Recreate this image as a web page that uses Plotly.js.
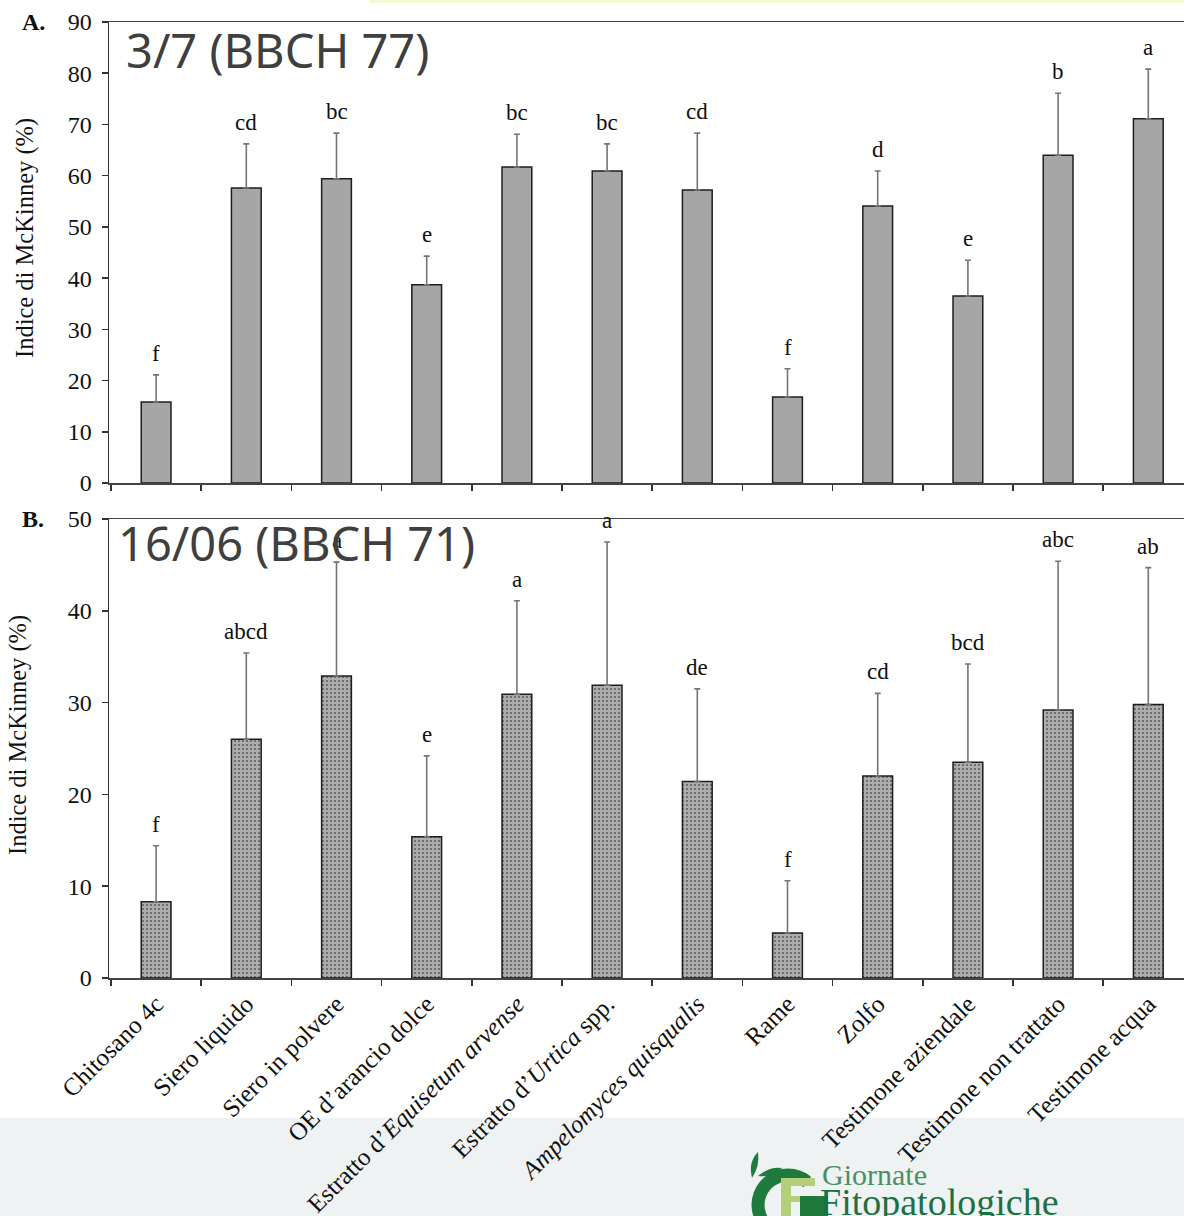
<!DOCTYPE html>
<html>
<head>
<meta charset="utf-8">
<script src="https://cdn.plot.ly/plotly-3.0.1.min.js"></script>
<style>
  html, body { margin: 0; padding: 0; background: #ffffff; }
  #chart { width: 1184px; height: 1216px; }
</style>
</head>
<body>
<div id="chart"></div>
<script>
// Treatments (shared by both panels)
const categories = [
  "Chitosano 4c",
  "Siero liquido",
  "Siero in polvere",
  "OE d\u2019arancio dolce",
  "Estratto d\u2019<i>Equisetum arvense</i>",
  "Estratto d\u2019<i>Urtica</i> spp.",
  "<i>Ampelomyces quisqualis</i>",
  "Rame",
  "Zolfo",
  "Testimone aziendale",
  "Testimone non trattato",
  "Testimone acqua"
];

// Panel A: 3/7 (BBCH 77) - McKinney index (%), standard deviation, significance letters
const valuesA = [15.8, 57.6, 59.4, 38.7, 61.7, 60.9, 57.2, 16.8, 54.1, 36.5, 64.0, 71.1];
const errorsA = [5.3, 8.6, 8.9, 5.6, 6.4, 5.3, 11.1, 5.5, 6.8, 7.0, 12.1, 9.7];
const lettersA = ["f", "cd", "bc", "e", "bc", "bc", "cd", "f", "d", "e", "b", "a"];

// Panel B: 16/06 (BBCH 71)
const valuesB = [8.3, 26.0, 32.9, 15.4, 30.9, 31.9, 21.4, 4.9, 22.0, 23.5, 29.2, 29.8];
const errorsB = [6.1, 9.4, 12.4, 8.8, 10.2, 15.6, 10.1, 5.7, 9.0, 10.7, 16.2, 14.9];
const lettersB = ["f", "abcd", "a", "e", "a", "a", "de", "f", "cd", "bcd", "abc", "ab"];

const titleA = "3/7 (BBCH 77)";
const titleB = "16/06 (BBCH 71)";
const yTitle = "Indice di McKinney (%)";

// page geometry helpers (plot area: left 109, right 1184, top 22, bottom 978)
const L = 109, R = 1184, T = 22, B = 978;
const px = v => (v - L) / (R - L);
const py = v => (B - v) / (B - T);
const STEP = 90.2;      // pixels per category
const FIRST = 111;      // pixel of the first category boundary

const serif = "Liberation Serif, Times New Roman, serif";

const errStyle = (arr) => ({
  type: "data", symmetric: false, array: arr,
  arrayminus: arr.map(() => 0),
  color: "#757575", thickness: 1.6, width: 3
});

const traceA = {
  type: "bar", x: categories, y: valuesA, xaxis: "x", yaxis: "y",
  marker: { color: "#a6a6a6", line: { color: "#1e1e1e", width: 1.5 } },
  error_y: errStyle(errorsA),
  hoverinfo: "x+y", showlegend: false
};

const traceB = {
  type: "bar", x: categories, y: valuesB, xaxis: "x2", yaxis: "y2",
  marker: {
    color: "#adadad",
    line: { color: "#1e1e1e", width: 1.5 },
    pattern: { shape: ".", fgcolor: "#5a5a5a", bgcolor: "#adadad", size: 4, solidity: 0.2 }
  },
  error_y: errStyle(errorsB),
  hoverinfo: "x+y", showlegend: false
};

const xCommon = {
  type: "category",
  range: [-0.5 - (FIRST - L) / STEP, -0.5 + (R - FIRST) / STEP],
  tickson: "boundaries",
  ticks: "outside", ticklen: 6, tickwidth: 1.5, tickcolor: "#333",
  showline: true, linecolor: "#444", linewidth: 1.5, mirror: true,
  showgrid: false, zeroline: false, fixedrange: true
};

const yCommon = {
  ticks: "outside", ticklen: 6, tickwidth: 1.5, tickcolor: "#333",
  ticklabelstandoff: 5,
  showline: true, linecolor: "#333", linewidth: 1.5,
  showgrid: false, zeroline: false, dtick: 10,
  tickfont: { family: serif, size: 24, color: "#111" },
  fixedrange: true
};

const letterNotes = (vals, errs, letters, xr, yr) => vals.map((v, i) => ({
  x: categories[i], y: v + errs[i], xref: xr, yref: yr,
  text: letters[i], showarrow: false, yanchor: "bottom", yshift: 7,
  font: { family: serif, size: 23, color: "#111" }
}));

const annotations = [
  ...letterNotes(valuesA, errorsA, lettersA, "x", "y"),
  ...letterNotes(valuesB, errorsB, lettersB, "x2", "y2"),
  // panel captions
  { xref: "paper", yref: "paper", x: px(124), y: py(50), xanchor: "left", yanchor: "middle",
    text: titleA, showarrow: false, font: { family: "Noto Sans", size: 47, color: "#3f3f3f" } },
  { xref: "paper", yref: "paper", x: px(116), y: py(543), xanchor: "left", yanchor: "middle",
    text: titleB, showarrow: false, font: { family: "Noto Sans", size: 47, color: "#3f3f3f" } },
  // panel markers
  { xref: "paper", yref: "paper", x: px(33), y: py(22), xanchor: "center", yanchor: "middle",
    text: "<b>A.</b>", showarrow: false, font: { family: serif, size: 24, color: "#111" } },
  { xref: "paper", yref: "paper", x: px(33), y: py(519), xanchor: "center", yanchor: "middle",
    text: "<b>B.</b>", showarrow: false, font: { family: serif, size: 24, color: "#111" } },
  // y-axis titles
  { xref: "paper", yref: "paper", x: px(25), y: py(238), xanchor: "center", yanchor: "middle",
    text: yTitle, textangle: -90, showarrow: false, font: { family: serif, size: 24.5, color: "#111" } },
  { xref: "paper", yref: "paper", x: px(18), y: py(735), xanchor: "center", yanchor: "middle",
    text: yTitle, textangle: -90, showarrow: false, font: { family: serif, size: 24.5, color: "#111" } },
  // footer logo lettering
  { xref: "paper", yref: "paper", x: px(820), y: py(1174), xanchor: "left", yanchor: "middle",
    text: "Giornate", showarrow: false, font: { family: serif, size: 30, color: "#4b8f63" } },
  { xref: "paper", yref: "paper", x: px(818), y: py(1202), xanchor: "left", yanchor: "middle",
    text: "Fitopatologiche", showarrow: false, font: { family: serif, size: 38, color: "#1d7043" } }
];

const shapes = [
  // footer band
  { type: "rect", xref: "paper", yref: "paper", layer: "below",
    x0: px(0), x1: px(1184), y0: py(1118), y1: py(1220),
    fillcolor: "#eff2f3", line: { width: 0 } },
  // thin header strip
  { type: "rect", xref: "paper", yref: "paper", layer: "below",
    x0: px(370), x1: px(1184), y0: py(0), y1: py(3),
    fillcolor: "#f2fbd5", line: { width: 0 } },
  // logo: dark green arc
  { type: "path", xref: "paper", yref: "paper", layer: "above",
    path: (() => {
      const cx = 788, cy = 1205, r = 30;
      const pts = [];
      for (let a = -50; a >= -270; a -= 10) {
        const t = a * Math.PI / 180;
        pts.push([cx + r * Math.cos(t), cy + r * Math.sin(t)]);
      }
      return "M" + pts.map(p => px(p[0]) + "," + py(p[1])).join(" L");
    })(),
    line: { color: "#1f7a3e", width: 13 } },
  // logo: light green F
  { type: "rect", xref: "paper", yref: "paper", layer: "above",
    x0: px(781), x1: px(791), y0: py(1216), y1: py(1178),
    fillcolor: "#b4cf7a", line: { width: 0 } },
  { type: "rect", xref: "paper", yref: "paper", layer: "above",
    x0: px(781), x1: px(815), y0: py(1186), y1: py(1178),
    fillcolor: "#b4cf7a", line: { width: 0 } },
  { type: "rect", xref: "paper", yref: "paper", layer: "above",
    x0: px(781), x1: px(805), y0: py(1202), y1: py(1196),
    fillcolor: "#b4cf7a", line: { width: 0 } },
  // logo: G bar
  { type: "rect", xref: "paper", yref: "paper", layer: "above",
    x0: px(800), x1: px(828), y0: py(1216), y1: py(1196),
    fillcolor: "#1f7a3e", line: { width: 0 } },
  // logo: leaves
  { type: "path", xref: "paper", yref: "paper", layer: "above",
    path: "M" + px(752) + "," + py(1178) + " Q" + px(748) + "," + py(1162) + " " + px(758) + "," + py(1152) +
          " Q" + px(760) + "," + py(1166) + " " + px(752) + "," + py(1178) + " Z",
    fillcolor: "#1f7a3e", line: { width: 0 } },
  { type: "path", xref: "paper", yref: "paper", layer: "above",
    path: "M" + px(758) + "," + py(1176) + " Q" + px(770) + "," + py(1166) + " " + px(782) + "," + py(1168) +
          " Q" + px(772) + "," + py(1178) + " " + px(758) + "," + py(1176) + " Z",
    fillcolor: "#1f7a3e", line: { width: 0 } }
];

const layout = {
  width: 1184, height: 1216,
  margin: { l: L, r: 1184 - R, t: T, b: 1216 - B },
  paper_bgcolor: "#ffffff", plot_bgcolor: "rgba(0,0,0,0)",
  bargap: 0.67,
  showlegend: false,
  xaxis: Object.assign({}, xCommon, { anchor: "y", showticklabels: false }),
  yaxis: Object.assign({}, yCommon, { domain: [py(483), 1], range: [0, 90] }),
  xaxis2: Object.assign({}, xCommon, {
    anchor: "y2", tickangle: -45,
    tickfont: { family: serif, size: 25, color: "#111" }
  }),
  yaxis2: Object.assign({}, yCommon, { domain: [0, py(519)], range: [0, 50] }),
  annotations: annotations,
  shapes: shapes
};

Plotly.newPlot("chart", [traceA, traceB], layout, { displayModeBar: false, staticPlot: true });
</script>
</body>
</html>
